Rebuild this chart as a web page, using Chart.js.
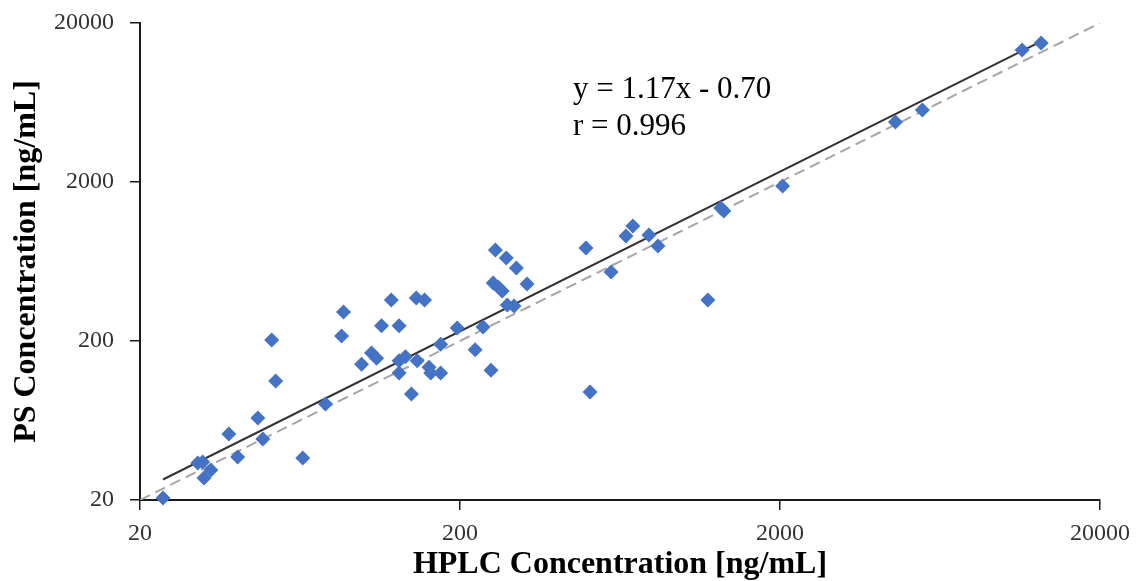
<!DOCTYPE html>
<html>
<head>
<meta charset="utf-8">
<script src="https://cdn.jsdelivr.net/npm/chart.js@4.4.1/dist/chart.umd.min.js"></script>
<style>
    html, body { margin: 0; padding: 0; background: #fff; }
    #wrap { width: 1139px; height: 581px; }
</style>
</head>
<body>
<div id="wrap"><canvas id="chartComparacion" width="1139" height="581"></canvas></div>
<script>
// HPLC (x) vs PS (y), ng/mL
const hplc = [
    23.6, 30.3, 31.4, 31.7, 33.3, 37.9, 40.4, 46.7, 48.4, 51.6,
    53.1, 64.5, 76.0, 85.3, 86.5, 98.5, 105.8, 109.7, 113.7, 122,
    129, 129, 129, 135, 141, 146, 147, 155, 160, 162,
    174, 174, 196, 223, 236, 250, 254, 258, 263, 271,
    279, 281, 295, 300, 324, 495, 510, 593, 660, 694,
    779, 831, 1190, 1306, 1335, 2038, 4590, 5572, 11422, 13092
];
const ps = [
    20.6, 34.2, 34.7, 27.5, 30.9, 52.0, 37.3, 65.6, 48.4, 203,
    112, 36.7, 80.3, 215, 304, 143, 168, 156, 249, 362,
    150, 126, 249, 159, 92.8, 373, 150, 362, 137, 126,
    126, 191, 241, 176, 245, 131, 463, 747, 437, 413,
    665, 337, 332, 576, 457, 769, 95.6, 543, 915, 1058,
    928, 792, 362, 1373, 1314, 1887, 4770, 5675, 13530, 14970
];
const tickValues = [20, 200, 2000, 20000];
const fitSlope = 1.17;
const fitIntercept = -0.70;
const fitR = 0.996;

const serif = "'Liberation Serif', 'Times New Roman', serif";
Chart.defaults.font.family = serif;

const xMin = Math.min(...hplc);
const xMax = Math.max(...hplc);
const fitLine = [xMin, xMax].map(x => ({ x: x, y: fitSlope * x + fitIntercept }));
const identityLine = [tickValues[0], tickValues[tickValues.length - 1]].map(v => ({ x: v, y: v }));

const fitLabel = {
    id: "fitLabel",
    afterDatasetsDraw(chart) {
        const { ctx, chartArea } = chart;
        ctx.save();
        ctx.font = "31px " + serif;
        ctx.fillStyle = "#000";
        ctx.textBaseline = "middle";
        const x = chartArea.left + 433;
        ctx.fillText("y = " + fitSlope.toFixed(2) + "x - " + Math.abs(fitIntercept).toFixed(2), x, 90);
        ctx.fillText("r = " + fitR.toFixed(3), x, 127);
        ctx.restore();
    }
};

function logAxis(title, sizeKey, size) {
    return {
        type: "logarithmic",
        min: tickValues[0],
        max: tickValues[tickValues.length - 1],
        afterBuildTicks: s => { s.ticks = tickValues.map(v => ({ value: v })); },
        afterFit: s => {
            s[sizeKey] = size;
            // the label overflow is already covered by layout padding
            if (sizeKey === "width") { s.paddingTop = 0; s.paddingBottom = 0; }
        },
        ticks: {
            callback: v => String(v),
            font: { size: 24 },
            color: "#333333",
            padding: sizeKey === "width" ? 16 : 9,
            maxRotation: 0,
            autoSkip: false
        },
        grid: { drawOnChartArea: false, drawTicks: true, tickLength: 10, color: "#1a1a1a", lineWidth: 1.5 },
        border: { color: "#1a1a1a", width: 2 },
        title: {
            display: true,
            text: title,
            color: "#000",
            font: { size: 32, weight: "bold", lineHeight: 1 },
            padding: sizeKey === "width" ? { top: 11, bottom: 0 } : { top: 0, bottom: 0 }
        }
    };
}

const canvas = document.getElementById("chartComparacion");
window.chartComparacion = new Chart(canvas, {
    type: "scatter",
    data: {
        datasets: [
            {
                label: "Muestras",
                data: hplc.map((x, i) => ({ x: x, y: ps[i] })),
                pointStyle: "rectRot",
                pointRadius: 7.5,
                backgroundColor: "#4472C4",
                borderColor: "#4472C4",
                pointBorderWidth: 0,
                clip: false,
                order: 0
            },
            {
                label: "Regresión",
                data: fitLine,
                showLine: true,
                pointRadius: 0,
                borderColor: "#333333",
                borderWidth: 2,
                order: 1
            },
            {
                label: "Identidad",
                data: identityLine,
                showLine: true,
                pointRadius: 0,
                borderColor: "#a6a6a6",
                borderWidth: 2,
                borderDash: [11, 6],
                order: 2
            }
        ]
    },
    options: {
        responsive: false,
        animation: false,
        layout: { padding: { top: 23, right: 37, left: 0, bottom: 0 } },
        plugins: { legend: { display: false }, tooltip: { enabled: false } },
        scales: {
            x: logAxis("HPLC Concentration [ng/mL]", "height", 81),
            y: logAxis("PS Concentration [ng/mL]", "width", 140)
        }
    },
    plugins: [fitLabel]
});
</script>
</body>
</html>
